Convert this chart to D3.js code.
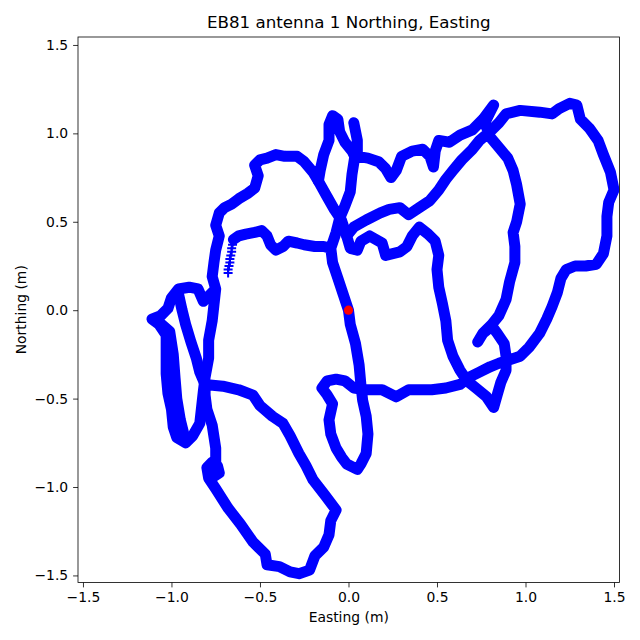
<!DOCTYPE html>
<html>
<head>
<meta charset="utf-8">
<script src="https://cdn.jsdelivr.net/npm/d3@7"></script>
<style>
  body { margin: 0; background: #fff; }
  text { font-family: "DejaVu Sans", sans-serif; }
</style>
</head>
<body>
<div id="here"></div>
<script>
var w = 640, h = 640;

// track pieces, [easting, northing] in metres
var trackA = [
  [-0.10,0.35],[-0.09,0.27],[-0.06,0.18],[-0.03,0.09],[0,0],
  [0.01,-0.08],[0.04,-0.19],[0.06,-0.31],[0.07,-0.42],[0.08,-0.51],[0.10,-0.60],[0.11,-0.70],[0.10,-0.81],
  [0.07,-0.87],[0.05,-0.90],[-0.01,-0.87],[-0.04,-0.83],[-0.07,-0.78],[-0.10,-0.70],[-0.11,-0.62],[-0.09,-0.53],
  [-0.12,-0.48],[-0.15,-0.44],[-0.12,-0.40],[-0.07,-0.39],[-0.02,-0.40],[0.03,-0.44],[0.10,-0.45],[0.19,-0.45],
  [0.27,-0.49],[0.34,-0.45],[0.47,-0.45],[0.55,-0.44],[0.63,-0.42],[0.68,-0.38],[0.74,-0.35],[0.80,-0.32],
  [0.85,-0.30],[0.91,-0.28],[0.97,-0.26],[1.02,-0.21],[1.08,-0.13],[1.12,-0.05],[1.15,0.02],[1.18,0.10],
  [1.20,0.18],[1.23,0.23],[1.28,0.25],[1.34,0.25],[1.40,0.26],[1.44,0.32],[1.46,0.42],[1.46,0.53],[1.47,0.61],
  [1.50,0.68],[1.48,0.78],[1.44,0.88],[1.41,0.96],[1.36,1.03],[1.31,1.08],[1.29,1.16],[1.25,1.17],[1.19,1.14],
  [1.15,1.11],[1.08,1.12],[0.97,1.13],[0.89,1.11],[0.85,1.06],[0.80,1.01],[0.74,0.96],[0.70,0.91],[0.64,0.85],
  [0.59,0.79],[0.55,0.74],[0.51,0.68],[0.46,0.62],[0.40,0.58],[0.34,0.54],[0.29,0.58],[0.23,0.57],[0.18,0.55],
  [0.10,0.51],[0.03,0.47],[-0.01,0.42],[0.01,0.35],[0.05,0.34],[0.07,0.39],[0.12,0.42],[0.19,0.38],[0.21,0.31],
  [0.29,0.33],[0.33,0.36],[0.36,0.42],[0.40,0.47],[0.45,0.43],[0.49,0.39],[0.51,0.31],[0.50,0.23],[0.51,0.13],
  [0.53,0.04],[0.55,-0.06],[0.56,-0.17],[0.59,-0.26],[0.63,-0.34],[0.67,-0.40],[0.72,-0.44],[0.78,-0.49],
  [0.82,-0.55],[0.84,-0.48],[0.86,-0.41],[0.89,-0.34],[0.89,-0.26],[0.88,-0.19],[0.84,-0.13],[0.81,-0.09],
  [0.76,-0.13],[0.73,-0.18],[0.76,-0.13],[0.81,-0.08],[0.85,-0.03],[0.89,0.06],[0.91,0.16],[0.94,0.27],
  [0.94,0.36],[0.93,0.44],[0.95,0.50],[0.97,0.60],[0.95,0.71],[0.93,0.79],[0.90,0.86],[0.85,0.92],[0.80,0.98],
  [0.77,1.06],[0.82,1.16],[0.76,1.08],[0.70,1.02],[0.63,0.99],[0.57,0.95],[0.51,0.96],[0.49,0.90],[0.48,0.81],
  [0.46,0.87],[0.42,0.91],[0.36,0.90],[0.30,0.87],[0.27,0.79],[0.24,0.75],[0.21,0.80],[0.17,0.84],[0.11,0.86],
  [0.05,0.87],[0.05,0.96],[0.03,1.06],[0.05,0.96],[0.02,0.77],[0.01,0.67],[-0.02,0.59],[-0.05,0.52],
  [-0.07,0.44],[-0.10,0.35],[-0.14,0.36],[-0.19,0.36],[-0.25,0.37],[-0.29,0.38],[-0.34,0.39],[-0.37,0.36],
  [-0.41,0.34],[-0.44,0.37],[-0.46,0.42],[-0.49,0.45],[-0.53,0.44],[-0.58,0.43],[-0.62,0.42],[-0.65,0.40]
];

var trackB = [
  [0.04,0.86],[0.02,0.90],[-0.02,0.95],[-0.05,1.01],[-0.06,1.08],[-0.09,1.10],[-0.11,1.05],[-0.11,0.96],
  [-0.14,0.88],[-0.16,0.79],[-0.17,0.73],[-0.20,0.78],[-0.25,0.84],[-0.29,0.87],[-0.36,0.87],[-0.41,0.88],
  [-0.46,0.86],[-0.50,0.85],[-0.53,0.82],[-0.51,0.76],[-0.53,0.69],[-0.57,0.66],[-0.62,0.63],[-0.66,0.60],
  [-0.70,0.58],[-0.73,0.55],[-0.75,0.48],[-0.73,0.42],[-0.75,0.34],[-0.76,0.27],[-0.77,0.19],[-0.75,0.12],
  [-0.76,0.03],[-0.77,-0.06],[-0.79,-0.17],[-0.79,-0.27],[-0.81,-0.38],[-0.82,-0.46],[-0.83,-0.55],[-0.84,-0.64],
  [-0.88,-0.71],[-0.92,-0.75],[-0.97,-0.72],[-0.99,-0.66],[-1.00,-0.56],[-1.02,-0.47],[-1.03,-0.36],[-1.03,-0.25],
  [-1.03,-0.14],[-1.07,-0.08],[-1.11,-0.05],[-1.06,-0.03],[-1.02,0.01],[-1.00,0.07],[-0.96,0.12],[-0.90,0.13],
  [-0.85,0.12],[-0.82,0.05],[-0.79,0.08],[-0.75,0.12]
];

var trackC = [
  [-0.96,0.09],[-0.94,0.00],[-0.92,-0.08],[-0.89,-0.18],[-0.86,-0.27],[-0.84,-0.35],[-0.81,-0.42],[-0.71,-0.43],
  [-0.62,-0.45],[-0.54,-0.48],[-0.50,-0.54],[-0.43,-0.60],[-0.37,-0.64],[-0.33,-0.71],[-0.28,-0.81],[-0.24,-0.88],
  [-0.20,-0.96],[-0.13,-1.05],[-0.07,-1.13],[-0.10,-1.19],[-0.11,-1.27],[-0.14,-1.34],[-0.19,-1.39],[-0.22,-1.47],
  [-0.28,-1.49],[-0.33,-1.48],[-0.39,-1.45],[-0.46,-1.44],[-0.47,-1.38],[-0.54,-1.31],[-0.61,-1.21],[-0.68,-1.12],
  [-0.75,-1.01],[-0.79,-0.95],[-0.80,-0.89],[-0.77,-0.86],[-0.74,-0.88],[-0.73,-0.92],[-0.76,-0.94],[-0.75,-0.86],
  [-0.75,-0.78],[-0.77,-0.65],[-0.80,-0.56],[-0.81,-0.48],[-0.81,-0.42]
];

var trackD = [[-0.17,0.73],[-0.12,0.64],[-0.08,0.57],[-0.04,0.51],[-0.01,0.42]];

// second pass down the far-left side
var trackE = [
  [-1.08,-0.06],[-1.01,-0.12],[-0.99,-0.25],[-0.98,-0.38],[-0.97,-0.50],[-0.95,-0.62],[-0.93,-0.70]
];

// fast stretch where the single '+' markers show
var sparse = [
  [-0.65,0.39],[-0.655,0.37],[-0.66,0.35],[-0.66,0.33],[-0.665,0.31],[-0.67,0.29],
  [-0.67,0.27],[-0.675,0.25],[-0.68,0.23],[-0.68,0.21]
];

var start = [0, 0];
var xTicks = [-1.5, -1.0, -0.5, 0.0, 0.5, 1.0, 1.5];
var yTicks = [-1.5, -1.0, -0.5, 0.0, 0.5, 1.0, 1.5];

var axL = 78, axR = 619.5, axT = 37, axB = 582.5;

var x = d3.scaleLinear().domain([-1.528, 1.531]).range([axL, axR]);
var y = d3.scaleLinear().domain([-1.540, 1.545]).range([axB, axT]);

var svg = d3.select('#here').append('svg')
  .attr('width', w)
  .attr('height', h)
  .style('background', 'white');

svg.append('defs').append('clipPath').attr('id', 'clip')
  .append('rect')
  .attr('x', axL).attr('y', axT)
  .attr('width', axR - axL).attr('height', axB - axT);

var plot = svg.append('g').attr('clip-path', 'url(#clip)');

var line = d3.line()
  .x(function(d) { return x(d[0]); })
  .y(function(d) { return y(d[1]); });

plot.selectAll('.track')
  .data([trackA, trackB, trackC, trackD, trackE])
  .enter().append('path')
  .attr('class', 'track')
  .attr('d', line)
  .attr('fill', 'none')
  .attr('stroke', 'blue')
  .attr('stroke-width', 11)
  .attr('stroke-linejoin', 'round')
  .attr('stroke-linecap', 'round');

plot.selectAll('.plus')
  .data(sparse)
  .enter().append('path')
  .attr('class', 'plus')
  .attr('d', 'M-4.5,0H4.5M0,-4.5V4.5')
  .attr('transform', function(d) { return 'translate(' + x(d[0]) + ',' + y(d[1]) + ')'; })
  .attr('stroke', 'blue')
  .attr('stroke-width', 2);

plot.append('circle')
  .attr('cx', x(start[0]))
  .attr('cy', y(start[1]))
  .attr('r', 4.6)
  .attr('fill', 'red');

var fmt = d3.format('.1f');

var gx = svg.append('g')
  .attr('transform', 'translate(0,' + axB + ')')
  .call(d3.axisBottom(x).tickValues(xTicks).tickFormat(fmt).tickSize(4.9).tickPadding(4.9));

var gy = svg.append('g')
  .attr('transform', 'translate(' + axL + ',0)')
  .call(d3.axisLeft(y).tickValues(yTicks).tickFormat(fmt).tickSize(4.9).tickPadding(4.9));

[gx, gy].forEach(function(g) {
  g.select('.domain').remove();
  g.selectAll('line').attr('stroke', 'black').attr('stroke-width', 0.8);
  g.selectAll('text').attr('fill', 'black').style('font-size', '13.9px')
    .style('font-family', '"DejaVu Sans", sans-serif');
});

svg.append('rect')
  .attr('x', axL).attr('y', axT)
  .attr('width', axR - axL).attr('height', axB - axT)
  .attr('fill', 'none')
  .attr('stroke', 'black')
  .attr('stroke-width', 0.8);

svg.append('text')
  .attr('x', (axL + axR) / 2)
  .attr('y', 28)
  .attr('text-anchor', 'middle')
  .style('font-size', '16.7px')
  .text('EB81 antenna 1 Northing, Easting');

svg.append('text')
  .attr('x', (axL + axR) / 2)
  .attr('y', 622)
  .attr('text-anchor', 'middle')
  .style('font-size', '13.9px')
  .text('Easting (m)');

svg.append('text')
  .attr('transform', 'translate(26,' + (axT + axB) / 2 + ') rotate(-90)')
  .attr('text-anchor', 'middle')
  .style('font-size', '13.9px')
  .text('Northing (m)');
</script>
</body>
</html>
